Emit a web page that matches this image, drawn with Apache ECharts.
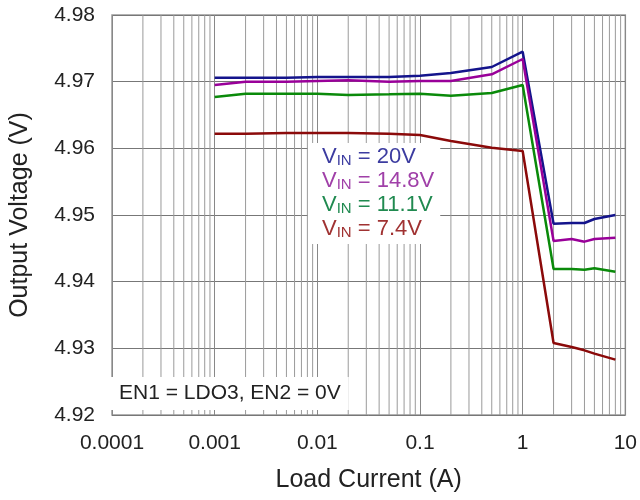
<!DOCTYPE html>
<html>
<head>
<meta charset="utf-8">
<script src="https://cdn.jsdelivr.net/npm/echarts@6/dist/echarts.min.js"></script>
<style>html,body{margin:0;padding:0;background:#fff;}#c{width:640px;height:500px;}</style>
</head>
<body>
<div id="c"></div>
<script>
// Load current (A)
const loadCurrent = [0.001, 0.002, 0.005, 0.01, 0.02, 0.05, 0.1, 0.2, 0.5, 1, 2, 3, 4, 5, 8];
// Output voltage (V) per input voltage
const vin20  = [4.9706, 4.9706, 4.9706, 4.9707, 4.9707, 4.9707, 4.9709, 4.9713, 4.9722, 4.9745, 4.9487, 4.9488, 4.9488, 4.9494, 4.9500];
const vin148 = [4.9695, 4.9700, 4.9700, 4.9701, 4.9702, 4.9700, 4.9701, 4.9701, 4.9711, 4.9734, 4.9461, 4.9464, 4.9460, 4.9464, 4.9466];
const vin111 = [4.9677, 4.9682, 4.9682, 4.9682, 4.9680, 4.9681, 4.9682, 4.9679, 4.9683, 4.9695, 4.9419, 4.9419, 4.9418, 4.9420, 4.9415];
const vin74  = [4.9622, 4.9622, 4.9623, 4.9623, 4.9623, 4.9622, 4.9620, 4.9611, 4.9601, 4.9596, 4.9308, 4.9302, 4.9297, 4.9292, 4.9283];
const seriesNames = ['20V', '14.8V', '11.1V', '7.4V'];
const seriesColors = ['#14148c', '#990099', '#0a8a0a', '#8b0a0a'];
const legendColors = ['#3c3ca0', '#a040a8', '#208a50', '#a03232'];
const xTickLabels = ['0.0001', '0.001', '0.01', '0.1', '1', '10'];
const yTickLabels = ['4.92', '4.93', '4.94', '4.95', '4.96', '4.97', '4.98'];
const xRange = [0.0001, 10];
const yRange = [4.92, 4.98];
const annotation = 'EN1 = LDO3, EN2 = 0V';

const FONT = 'Liberation Sans, Arial, sans-serif';
const allY = [vin20, vin148, vin111, vin74];

// minor log grid values (2..9 per decade)
const minorVals = [];
for (let d = -4; d < 1; d++) {
  for (let k = 2; k <= 9; k++) minorVals.push(+(k * Math.pow(10, d)).toPrecision(3));
}

const rich = {};
seriesNames.forEach((n, i) => {
  rich['v' + i] = { fontSize: 22, lineHeight: 22, color: legendColors[i], fontFamily: FONT, verticalAlign: 'bottom' };
  rich['s' + i] = { fontSize: 15, lineHeight: 12, color: legendColors[i], fontFamily: FONT, verticalAlign: 'bottom' };
});

const series = seriesNames.map((n, i) => ({
  name: n,
  type: 'line',
  data: loadCurrent.map((x, j) => [x, allY[i][j]]),
  showSymbol: false,
  symbol: 'none',
  lineStyle: { color: seriesColors[i], width: 2.5 },
  itemStyle: { color: seriesColors[i] },
  z: 10
}));
series.push({
  name: 'minorGrid',
  type: 'custom',
  z: 1,
  silent: true,
  data: minorVals.map(v => [v, yRange[0]]),
  encode: { x: 0, y: 1 },
  renderItem: (params, api) => {
    const x = api.value(0);
    const p1 = api.coord([x, yRange[0]]);
    const p2 = api.coord([x, yRange[1]]);
    return {
      type: 'line',
      silent: true,
      shape: { x1: p1[0], y1: p1[1], x2: p2[0], y2: p2[1] },
      style: { stroke: '#9a9a9a', lineWidth: 1 }
    };
  }
});

const chart = echarts.init(document.getElementById('c'), null, { renderer: 'canvas' });
chart.setOption({
  animation: false,
  backgroundColor: '#fff',
  grid: { left: 109, right: 14, top: 15, bottom: 85, show: true, borderColor: '#999', borderWidth: 1.5 },
  xAxis: {
    type: 'log', logBase: 10, min: xRange[0], max: xRange[1],
    name: 'Load Current (A)', nameLocation: 'middle', nameGap: 53,
    nameTextStyle: { fontSize: 25, color: '#222', fontFamily: FONT },
    axisLine: { show: false },
    axisTick: { show: false },
    axisLabel: {
      fontSize: 21, color: '#222', fontFamily: FONT, margin: 18,
      formatter: v => { const s = String(+(+v).toPrecision(6)); return xTickLabels.includes(s) ? s : ''; }
    },
    splitLine: { show: true, lineStyle: { color: '#888', width: 1 } },
    minorTick: { show: false },
    minorSplitLine: { show: false }
  },
  yAxis: {
    type: 'value', min: yRange[0], max: yRange[1], interval: 0.01,
    name: 'Output Voltage (V)', nameLocation: 'middle', nameGap: 79,
    nameTextStyle: { fontSize: 25, color: '#222', fontFamily: FONT },
    axisLine: { show: false },
    axisTick: { show: false },
    axisLabel: { fontSize: 21, color: '#222', fontFamily: FONT, margin: 17,
      formatter: v => { const s = (+v).toFixed(2); return yTickLabels.includes(s) ? s : ''; } },
    splitLine: { show: true, lineStyle: { color: '#777', width: 1 } }
  },
  legend: {
    data: seriesNames.map(n => ({ name: n, icon: 'none' })),
    orient: 'vertical',
    left: 308, top: 143, z: 20,
    backgroundColor: '#fff',
    padding: [3, 6, 4, 8],
    itemGap: 2,
    itemWidth: 1, itemHeight: 20,
    selectedMode: false,
    formatter: name => { const i = seriesNames.indexOf(name); return '{v' + i + '|V}{s' + i + '|IN}{v' + i + '| = ' + name + '}'; },
    textStyle: { fontSize: 22, fontFamily: FONT, rich: rich }
  },
  graphic: [{
    type: 'text', left: 110, top: 377, z: 100,
    style: { text: annotation, fontSize: 21, fontFamily: FONT, fill: '#222', backgroundColor: '#fff', padding: [6, 8, 6, 9] }
  }],
  series: series
});
</script>
</body>
</html>
